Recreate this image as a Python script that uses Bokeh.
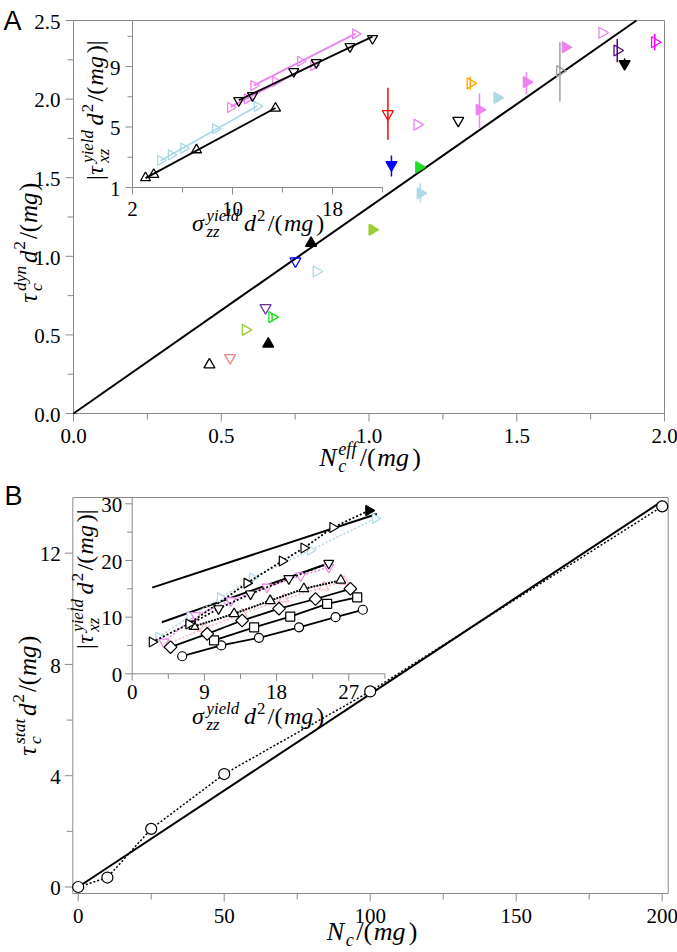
import numpy as np
from bokeh.plotting import figure
from bokeh.models import Range1d, Label, ColumnDataSource
from bokeh.core.properties import value, field
from bokeh.layouts import column
from bokeh.embed import file_html
from bokeh.resources import INLINE

NaN = float("nan")

# ===================== DATA =====================
# ---- Panel A, main scatter ----
a_x = [0.46, 0.53, 0.582, 0.65, 0.672, 0.659, 0.751, 0.804, 0.822, 1.011, 1.064, 1.076, 1.163,
       1.169, 1.174, 1.302, 1.343, 1.374, 1.434, 1.533, 1.646, 1.665, 1.789, 1.84, 1.865, 1.967]
a_y = [0.31, 0.354, 0.532, 0.672, 0.613, 0.443, 0.969, 1.083, 0.903, 1.169, 1.906, 1.582, 1.838,
       1.567, 1.401, 1.864, 2.10, 1.932, 2.008, 2.108, 2.178, 2.33, 2.422, 2.309, 2.225, 2.362]
a_color = ["black", "#f08080", "#9acd32", "#663399", "#22dd22", "black", "blue", "black", "#add8e6",
           "#9acd32", "red", "blue", "violet", "#22dd22", "#add8e6", "black", "orange", "violet",
           "#add8e6", "violet", "#a0a0a0", "violet", "violet", "#4b0082", "black", "magenta"]
a_shape = ["up", "down", "right", "down", "right", "up", "down", "up", "right", "right", "down",
           "down", "right", "right", "right", "down", "right", "right", "right", "right", "right",
           "right", "right", "right", "down", "right"]
a_filled = [0, 0, 0, 0, 0, 1, 0, 1, 0, 1, 0, 1, 0, 1, 1, 0, 0, 1, 1, 1, 0, 1, 0, 0, 1, 0]
a_err_lo = [NaN, NaN, NaN, NaN, 0.585, 0.425, NaN, NaN, NaN, 1.14, 1.741, 1.508, NaN,
            NaN, 1.344, NaN, 2.059, 1.817, NaN, 2.029, 1.985, NaN, NaN, 2.235, 2.20, 2.309]
a_err_hi = [NaN, NaN, NaN, NaN, 0.64, 0.475, NaN, NaN, NaN, 1.20, 2.072, 1.641, NaN,
            NaN, 1.463, NaN, 2.144, 2.037, NaN, 2.171, 2.362, NaN, NaN, 2.383, 2.26, 2.415]
a_line_x = [0.0, 1.905]
a_line_y = [0.0, 2.5]
a_xticks = [0.0, 0.5, 1.0, 1.5, 2.0]
a_xminor = [0.25, 0.75, 1.25, 1.75]
a_yticks = [0.0, 0.5, 1.0, 1.5, 2.0, 2.5]
a_yminor = [0.25, 0.75, 1.25, 1.75, 2.25]

# ---- Panel A, inset ----
ia_up_x = [3.04, 3.70, 7.12, 13.44]
ia_up_y = [1.64, 1.86, 3.49, 6.24]
ia_lb_x = [4.24, 5.10, 6.10, 8.64, 11.98]
ia_lb_y = [2.79, 3.16, 3.60, 4.88, 6.36]
ia_dn_x = [10.5, 11.6, 14.9, 16.7, 19.4, 21.2]
ia_dn_y = [6.75, 7.08, 8.67, 9.26, 10.32, 10.85]
ia_v1_x = [9.84, 11.18, 13.44, 16.5]
ia_v1_y = [6.29, 6.86, 8.01, 9.07]
ia_v2_x = [11.7, 15.44, 19.84]
ia_v2_y = [7.74, 9.35, 11.16]
ia_xmajor = [2, 10, 18]
ia_xminor = [6, 14, 22]
ia_ymajor = [1, 5, 9]
ia_yminor = [3, 7, 11]

# ---- Panel B, main ----
b_x = [0, 10, 25, 50, 100, 200]
b_y = [0.0, 0.34, 2.09, 4.06, 7.03, 13.68]
b_line_x = [0.0, 200.0]
b_line_y = [0.0, 13.87]
b_xticks = [0, 50, 100, 150, 200]
b_xminor = [25, 75, 125, 175]
b_yticks = [0, 4, 8, 12]
b_yminor = [2, 6, 10]

# ---- Panel B, inset ----
ib_circ_x = [6.23, 11.1, 15.8, 20.8, 25.35, 28.75]
ib_circ_y = [3.1, 5.0, 6.35, 8.2, 10.0, 11.3]
ib_sq_x = [10.2, 15.2, 19.7, 24.3, 28.05]
ib_sq_y = [5.9, 8.2, 10.1, 12.35, 13.5]
ib_dia_x = [4.78, 9.35, 13.7, 18.3, 22.85, 27.2]
ib_dia_y = [4.7, 7.05, 9.4, 11.5, 13.2, 15.0]
ib_up_x = [7.7, 12.7, 17.2, 21.4, 26.0]
ib_up_y = [8.35, 10.6, 12.9, 15.0, 16.5]
ib_uppk_x = [4.4, 9.0, 13.7, 18.9, 23.9, 26.4]
ib_uppk_y = [5.3, 8.0, 10.6, 13.2, 15.3, 16.3]
ib_dn_x = [7.27, 10.77, 14.75, 19.53, 24.5]
ib_dn_y = [8.8, 11.5, 14.1, 16.8, 19.5]
ib_dnv_x = [3.94, 7.9, 12.3, 16.8, 21.0, 24.5]
ib_dnv_y = [5.6, 10.3, 12.9, 15.3, 17.3, 18.8]
ib_rt_x = [2.49, 7.06, 14.3, 18.7, 21.4, 25.0, 29.5]
ib_rt_y = [5.6, 8.8, 16.0, 19.9, 22.2, 25.8, 28.8]
ib_rt_filled = [0, 0, 0, 0, 0, 0, 1]
ib_rtlb_x = [3.3, 7.2, 11.0, 15.0, 22.2, 30.3]
ib_rtlb_y = [6.5, 10.1, 13.4, 16.9, 21.8, 27.4]
ib_ref1_x = [2.49, 30.5]
ib_ref1_y = [15.2, 28.2]
ib_ref2_x = [3.7, 24.5]
ib_ref2_y = [9.1, 19.5]
ib_xmajor = [0, 9, 18, 27]
ib_xminor = [4.5, 13.5, 22.5, 31.5]
ib_ymajor = [0, 10, 20, 30]
ib_yminor = [5, 15, 25]

# ===================== STYLE / GEOMETRY (canvas px) =====================
GRAY = "#8a8a8a"
SERIF = "Liberation Serif"
W = 677
A_H, B_H = 478, 474
LIFT = 0.3  # text rendering lift (em) so the alphabetic baseline lands where intended
TICK_FS = 21

# panel A: data->px mapping
A_FL, A_FR, A_FT, A_FB = 73, 664, 20, 413
A_SX = (A_FR - A_FL) / 2.0
A_SY = (A_FB - A_FT) / 2.5
a_xr = Range1d(-A_FL / A_SX, (W - A_FL) / A_SX)
a_yr = Range1d(2.5 - (A_H - A_FT) / A_SY, 2.5 + A_FT / A_SY)

# panel B: data->px mapping (canvas y measured from top of panel B)
B_FL, B_FR, B_FT, B_FB = 72.3, 667.7, 19, 415
B_X0PX, B_SX = 77.7, 2.92
B_Y0PX = 408.5
B_SY = (B_Y0PX - B_FT) / 14.0
bx0 = -(B_X0PX - B_FL) / B_SX
bx1 = (B_FR - B_X0PX) / B_SX
by0 = -(B_FB - B_Y0PX) / B_SY
b_xr = Range1d(-B_X0PX / B_SX, (W - B_X0PX) / B_SX)
b_yr = Range1d(-(B_H - B_Y0PX) / B_SY, B_Y0PX / B_SY)

# inset A: canvas px of inset origin (2,1) and px per unit
IA_OX, IA_OY, IA_SX, IA_SY = 132.0, 187.0, 12.5, 15.125
ia_xr = Range1d(2 - IA_OX / IA_SX, 2 + (W - IA_OX) / IA_SX)
ia_yr = Range1d(1 - (A_H - IA_OY) / IA_SY, 1 + IA_OY / IA_SY)
ia_top = 1 + (IA_OY - A_FT) / IA_SY
# inset B: canvas px of inset origin (0,0) and px per unit
IB_OX, IB_OY, IB_SX, IB_SY = 131.7, 195.3, 8.022, 5.667
ib_xr = Range1d(-IB_OX / IB_SX, (W - IB_OX) / IB_SX)
ib_yr = Range1d(-(B_H - IB_OY) / IB_SY, IB_OY / IB_SY)
ib_top = (IB_OY - B_FT) / IB_SY

WID = {'.': 0.25, '/': 0.278, '(': 0.333, ')': 0.333, '|': 0.2, ' ': 0.25, 'N': 0.667, 'c': 0.444,
       'd': 0.5, 'm': 0.722, 'g': 0.5, 'e': 0.444, 'f': 0.278, 'y': 0.444, 'n': 0.5, 's': 0.389,
       't': 0.278, 'a': 0.5, 'i': 0.278, 'l': 0.278, 'x': 0.444, 'z': 0.389, 'τ': 0.45, 'σ': 0.55}


def tw(s):
    return sum(WID.get(c, 0.5) for c in s)


def math_label(p, parts, x, y, size, sx, sy, rotated=False, rn="default", gap=1.1):
    items = []
    pos = 0.0
    for part in parts:
        if part[0] == "^_":
            _, sub, sup, sst = part
            ss = 0.7 * size
            w = 0.0
            if sub:
                items.append((sub, "italic", ss, pos, -0.24 * size))
                w = max(w, tw(sub) * ss)
            if sup:
                items.append((sup, sst, ss, pos, 0.42 * size))
                w = max(w, tw(sup) * ss)
            pos += w * gap + 0.06 * size
        else:
            t, st = part
            items.append((t, st, size, pos, 0.0))
            pos += tw(t) * size * gap
    start = -pos / 2.0
    for t, st, fs, adv, sh in items:
        along = start + adv
        sh = sh + LIFT * fs
        if rotated:
            dx, dy = -sh, along
        else:
            dx, dy = along, sh
        p.add_layout(Label(x=x + dx / sx, y=y + dy / sy, text=t, text_font=SERIF,
                           text_font_style=st, text_font_size=f"{fs:.1f}px", text_color="black",
                           text_align="left", text_baseline="alphabetic",
                           angle=(np.pi / 2 if rotated else 0.0),
                           x_range_name=rn, y_range_name=rn))


def draw_axes(p, rn, x0, y0, x1, y1, xmaj, xmin, ymaj, ymin, sx, sy, fmt, box,
              tmaj, tmin, xlab_dy, ylab_dx):
    """Axis lines, outward ticks and tick labels drawn through the given ranges."""
    kw = dict(x_range_name=rn, y_range_name=rn, line_color=GRAY, line_width=1)
    if box:
        p.segment(x0=[x0, x0, x0, x1], y0=[y0, y0, y1, y0], x1=[x1, x0, x1, x1], y1=[y0, y1, y1, y1], **kw)
    else:
        p.segment(x0=[x0, x0], y0=[y0, y0], x1=[x1, x0], y1=[y0, y1], **kw)
    p.segment(x0=xmaj, y0=[y0] * len(xmaj), x1=xmaj, y1=[y0 - tmaj / sy] * len(xmaj), **kw)
    p.segment(x0=xmin, y0=[y0] * len(xmin), x1=xmin, y1=[y0 - tmin / sy] * len(xmin), **kw)
    p.segment(x0=[x0] * len(ymaj), y0=ymaj, x1=[x0 - tmaj / sx] * len(ymaj), y1=ymaj, **kw)
    p.segment(x0=[x0] * len(ymin), y0=ymin, x1=[x0 - tmin / sx] * len(ymin), y1=ymin, **kw)
    tk = dict(x_range_name=rn, y_range_name=rn, text_font=value(SERIF),
              text_font_size=value(f"{TICK_FS}px"), text_color="black", text_baseline="alphabetic")
    lift = LIFT * TICK_FS
    p.text(x=xmaj, y=[y0 - (xlab_dy - lift) / sy] * len(xmaj), text=[fmt(v) for v in xmaj],
           text_align="center", **tk)
    p.text(x=[x0 - ylab_dx / sx] * len(ymaj), y=[v - (7.5 - lift) / sy for v in ymaj],
           text=[fmt(v) for v in ymaj], text_align="right", **tk)


def new_fig(h, xr, yr):
    p = figure(width=W, height=h, x_range=xr, y_range=yr, output_backend="svg",
               toolbar_location=None, x_axis_location=None, y_axis_location=None, min_border=0)
    p.grid.visible = False
    p.outline_line_color = None
    p.background_fill_color = "white"
    p.border_fill_color = "white"
    return p


SHAPE = {"up": ("triangle", 0.0), "down": ("inverted_triangle", 0.0), "right": ("triangle", -np.pi / 2)}

INSET_Y = [("|", "normal"), ("τ", "italic"), ("^_", "xz", "yield", "italic"), ("d", "italic"),
           ("^_", None, "2", "normal"), ("/(", "normal"), ("mg", "italic"), (")|", "normal")]
INSET_X = [("σ", "italic"), ("^_", "zz", "yield", "italic"), ("d", "italic"),
           ("^_", None, "2", "normal"), ("/(", "normal"), ("mg", "italic"), (")", "normal")]

# ===================== PANEL A =====================
pA = new_fig(A_H, a_xr, a_yr)
pA.extra_x_ranges = {"ia": ia_xr}
pA.extra_y_ranges = {"ia": ia_yr}
draw_axes(pA, "default", 0.0, 0.0, 2.0, 2.5, a_xticks, a_xminor, a_yticks, a_yminor, A_SX, A_SY,
          lambda v: f"{v:.1f}", True, 8, 6, 29, 13)

pA.line(a_line_x, a_line_y, line_color="black", line_width=2)
pA.segment(x0=a_x, y0=a_err_lo, x1=a_x, y1=a_err_hi, line_color=a_color, line_width=1.5)
srcA = ColumnDataSource(dict(x=a_x, y=a_y, color=a_color,
                             marker=[SHAPE[s][0] for s in a_shape],
                             angle=[SHAPE[s][1] for s in a_shape],
                             fa=[float(f) for f in a_filled]))
pA.scatter(x="x", y="y", source=srcA, marker=field("marker"), angle=field("angle"), size=11,
           line_color=field("color"), fill_color=field("color"), fill_alpha=field("fa"),
           line_width=1.3)

# inset A
draw_axes(pA, "ia", 2, 1, 22, ia_top, ia_xmajor, ia_xminor, ia_ymajor, ia_yminor, IA_SX, IA_SY,
          lambda v: f"{v:g}", False, 7, 5, 28, 12)
for xs, ys, col, shp in [(ia_lb_x, ia_lb_y, "#add8e6", "right"), (ia_v1_x, ia_v1_y, "violet", "right"),
                         (ia_v2_x, ia_v2_y, "violet", "right"), (ia_up_x, ia_up_y, "black", "up"),
                         (ia_dn_x, ia_dn_y, "black", "down")]:
    c = np.polyfit(xs, ys, 1)
    fx = [min(xs), max(xs)]
    pA.line(fx, list(np.polyval(c, fx)), x_range_name="ia", y_range_name="ia",
            line_color=col, line_width=1.8)
    pA.scatter(xs, ys, x_range_name="ia", y_range_name="ia", marker=SHAPE[shp][0],
               angle=SHAPE[shp][1], size=10, line_color=col, fill_color=None, line_width=1.3)

math_label(pA, INSET_X, 2 + (258 - IA_OX) / IA_SX, 1 - (230 - IA_OY) / IA_SY, 24, IA_SX, IA_SY, rn="ia")
math_label(pA, INSET_Y, 2 - (IA_OX - 102) / IA_SX, 1 + (IA_OY - 109) / IA_SY, 24, IA_SX, IA_SY,
           rotated=True, rn="ia")

# main labels A
math_label(pA, [("N", "italic"), ("^_", "c", "eff", "italic"), ("/(", "normal"), ("mg", "italic"),
                (")", "normal")], (370 - A_FL) / A_SX, -(465 - A_FB) / A_SY, 26, A_SX, A_SY)
math_label(pA, [("τ", "italic"), ("^_", "c", "dyn", "italic"), ("d", "italic"),
                ("^_", None, "2", "normal"), ("/(", "normal"), ("mg", "italic"), (")", "normal")],
           -(A_FL - 35) / A_SX, 2.5 - (242 - A_FT) / A_SY, 25, A_SX, A_SY, rotated=True, gap=1.05)
pA.add_layout(Label(x=-(A_FL - 3) / A_SX, y=2.5 - (28 - 8 - A_FT) / A_SY, text="A",
                    text_font="Liberation Sans", text_font_size="27px", text_color="black",
                    text_align="left", text_baseline="alphabetic"))

# ===================== PANEL B =====================
pB = new_fig(B_H, b_xr, b_yr)
pB.extra_x_ranges = {"ib": ib_xr}
pB.extra_y_ranges = {"ib": ib_yr}
draw_axes(pB, "default", bx0, by0, bx1, 14.0, b_xticks, b_xminor, b_yticks, b_yminor, B_SX, B_SY,
          lambda v: f"{v:g}", True, 8, 6, 29, 12)

pB.line(b_line_x, b_line_y, line_color="black", line_width=2)
pB.line(b_x, b_y, line_color="black", line_width=1.5, line_dash="2 2")
pB.scatter(b_x, b_y, marker="circle", size=11, line_color="black", fill_color="white", line_width=1.2)

# inset B
draw_axes(pB, "ib", 0, 0, 31.5, ib_top, ib_xmajor, ib_xminor, ib_ymajor, ib_yminor, IB_SX, IB_SY,
          lambda v: f"{v:g}", False, 7, 5, 24, 10)
ikw = dict(x_range_name="ib", y_range_name="ib")
pB.line(ib_ref1_x, ib_ref1_y, line_color="black", line_width=2, **ikw)
pB.line(ib_ref2_x, ib_ref2_y, line_color="black", line_width=2, **ikw)
series_b = [
    (ib_rtlb_x, ib_rtlb_y, "triangle", -np.pi / 2, "#add8e6", "2 2", 1.5),
    (ib_uppk_x, ib_uppk_y, "triangle", 0.0, "#ffb6c1", "2 2", 1.5),
    (ib_dnv_x, ib_dnv_y, "inverted_triangle", 0.0, "violet", "2 2", 1.5),
    (ib_circ_x, ib_circ_y, "circle", 0.0, "black", "solid", 1.8),
    (ib_sq_x, ib_sq_y, "square", 0.0, "black", "solid", 1.8),
    (ib_dia_x, ib_dia_y, "square", np.pi / 4, "black", "solid", 1.8),
    (ib_up_x, ib_up_y, "triangle", 0.0, "black", "2 1", 2.0),
    (ib_dn_x, ib_dn_y, "inverted_triangle", 0.0, "black", "2 2", 1.8),
    (ib_rt_x, ib_rt_y, "triangle", -np.pi / 2, "black", "2 2", 1.8),
]
for xs, ys, mk, ang, col, dash, lw in series_b:
    pB.line(xs, ys, line_color=col, line_width=lw, line_dash=dash, **ikw)
    pB.scatter(xs, ys, marker=mk, angle=ang, size=(9 if mk in ("circle", "square") else 10),
               line_color=col, fill_color="white", line_width=1.2, **ikw)
pB.scatter([ib_rt_x[i] for i in range(len(ib_rt_x)) if ib_rt_filled[i]],
           [ib_rt_y[i] for i in range(len(ib_rt_y)) if ib_rt_filled[i]],
           marker="triangle", angle=-np.pi / 2, size=10, line_color="black", fill_color="black", **ikw)

math_label(pB, INSET_X, (258 - IB_OX) / IB_SX, -(723 - 478 - IB_OY) / IB_SY, 24, IB_SX, IB_SY, rn="ib")
math_label(pB, INSET_Y, -(IB_OX - 92) / IB_SX, (IB_OY - (578 - 478)) / IB_SY, 24, IB_SX, IB_SY,
           rotated=True, rn="ib")

math_label(pB, [("N", "italic"), ("^_", "c", None, "italic"), ("/(", "normal"), ("mg", "italic"),
                (")", "normal")], (372 - B_X0PX) / B_SX, -(939 - 478 - B_Y0PX) / B_SY, 26, B_SX, B_SY)
math_label(pB, [("τ", "italic"), ("^_", "c", "stat", "italic"), ("d", "italic"),
                ("^_", None, "2", "normal"), ("/(", "normal"), ("mg", "italic"), (")", "normal")],
           -(B_X0PX - 34) / B_SX, (B_Y0PX - (695 - 478)) / B_SY, 25, B_SX, B_SY, rotated=True, gap=1.05)
pB.add_layout(Label(x=-(B_X0PX - 4) / B_SX, y=(B_Y0PX - (25 - 8)) / B_SY, text="B",
                    text_font="Liberation Sans", text_font_size="27px", text_color="black",
                    text_align="left", text_baseline="alphabetic"))

layout = column(pA, pB, spacing=0)
open("out.html", "w").write(file_html(layout, INLINE))
